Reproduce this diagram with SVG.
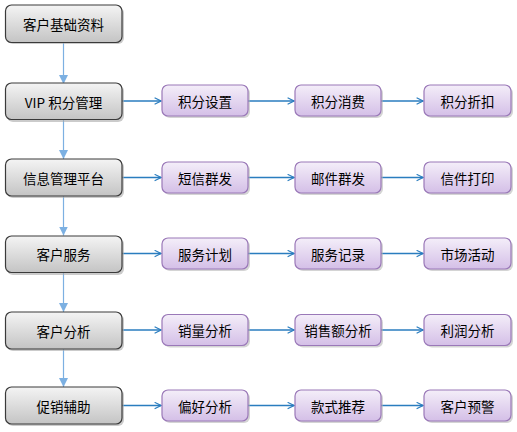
<svg xmlns="http://www.w3.org/2000/svg" width="517" height="432" viewBox="0 0 517 432">
<defs>
<linearGradient id="gGrey" x1="0" y1="0" x2="0" y2="1">
<stop offset="0" stop-color="#f4f4f4"/>
<stop offset="1" stop-color="#c4c4c4"/>
</linearGradient>
<linearGradient id="gPurple" x1="0" y1="0" x2="0" y2="1">
<stop offset="0" stop-color="#f4eef9"/>
<stop offset="1" stop-color="#d4bfe7"/>
</linearGradient>
<marker id="tri" viewBox="0 0 10 10" refX="10" refY="5" markerWidth="9" markerHeight="9" markerUnits="userSpaceOnUse" orient="auto">
<path d="M0,0 L10,5 L0,10 Z" fill="#7cb0e2"/>
</marker>
<marker id="chev" viewBox="0 0 10 10" refX="9" refY="5" markerWidth="8" markerHeight="8" markerUnits="userSpaceOnUse" orient="auto">
<path d="M1,1 L9,5 L1,9" fill="none" stroke="#2a7dbf" stroke-width="1.4"/>
</marker>
</defs>
<style>
.gs{fill:#a8a8a8;opacity:0.6}
.g{fill:url(#gGrey);stroke:#3a3a3a;stroke-width:1.2}
.ps{fill:#b0b0b0;opacity:0.55}
.p{fill:url(#gPurple);stroke:#9a78b8;stroke-width:1.2}
.t{font-family:"Noto Sans CJK SC","Liberation Sans",sans-serif;font-size:13.5px;fill:#000;text-anchor:middle;dominant-baseline:central}
.v{stroke:#7cb0e2;stroke-width:1.2;fill:none}
.h{stroke:#2a7dbf;stroke-width:1.3;fill:none}
</style>
<rect width="517" height="432" fill="#ffffff"/>
<g id="connectors">
<line class="v" x1="63.5" y1="43" x2="63.5" y2="84" marker-end="url(#tri)"/>
<line class="v" x1="63.5" y1="120" x2="63.5" y2="159" marker-end="url(#tri)"/>
<line class="v" x1="63.5" y1="196" x2="63.5" y2="235.5" marker-end="url(#tri)"/>
<line class="v" x1="63.5" y1="273" x2="63.5" y2="312" marker-end="url(#tri)"/>
<line class="v" x1="63.5" y1="349" x2="63.5" y2="387" marker-end="url(#tri)"/>
<line class="h" x1="122" y1="101" x2="161" y2="101" marker-end="url(#chev)"/>
<line class="h" x1="248" y1="101" x2="294" y2="101" marker-end="url(#chev)"/>
<line class="h" x1="381" y1="101" x2="423" y2="101" marker-end="url(#chev)"/>
<line class="h" x1="122" y1="177.5" x2="161" y2="177.5" marker-end="url(#chev)"/>
<line class="h" x1="248" y1="177.5" x2="294" y2="177.5" marker-end="url(#chev)"/>
<line class="h" x1="381" y1="177.5" x2="423" y2="177.5" marker-end="url(#chev)"/>
<line class="h" x1="122" y1="253.5" x2="161" y2="253.5" marker-end="url(#chev)"/>
<line class="h" x1="248" y1="253.5" x2="294" y2="253.5" marker-end="url(#chev)"/>
<line class="h" x1="381" y1="253.5" x2="423" y2="253.5" marker-end="url(#chev)"/>
<line class="h" x1="122" y1="330" x2="161" y2="330" marker-end="url(#chev)"/>
<line class="h" x1="248" y1="330" x2="294" y2="330" marker-end="url(#chev)"/>
<line class="h" x1="381" y1="330" x2="423" y2="330" marker-end="url(#chev)"/>
<line class="h" x1="122" y1="405.5" x2="161" y2="405.5" marker-end="url(#chev)"/>
<line class="h" x1="248" y1="405.5" x2="294" y2="405.5" marker-end="url(#chev)"/>
<line class="h" x1="381" y1="405.5" x2="423" y2="405.5" marker-end="url(#chev)"/>
</g>
<g id="n0"><rect class="gs" x="7" y="7" width="117" height="37" rx="6"/><rect class="g" x="5.5" y="5" width="116.5" height="37.5" rx="6"/><text class="t" x="63.5" y="23.5">客户基础资料</text></g>
<g id="n1"><rect class="gs" x="7" y="85" width="117" height="37" rx="6"/><rect class="g" x="5.5" y="83" width="116.5" height="36.5" rx="6"/><text class="t" x="63.5" y="101.5">VIP 积分管理</text></g>
<g id="n2"><rect class="gs" x="7" y="161" width="117" height="37" rx="6"/><rect class="g" x="5.5" y="159" width="116.5" height="37" rx="6"/><text class="t" x="63.5" y="177.5">信息管理平台</text></g>
<g id="n3"><rect class="gs" x="7" y="238" width="117" height="37" rx="6"/><rect class="g" x="5.5" y="236" width="116.5" height="36.5" rx="6"/><text class="t" x="63.5" y="254">客户服务</text></g>
<g id="n4"><rect class="gs" x="7" y="314" width="117" height="37" rx="6"/><rect class="g" x="5.5" y="312" width="116.5" height="37" rx="6"/><text class="t" x="63.5" y="330.5">客户分析</text></g>
<g id="n5"><rect class="gs" x="7" y="389" width="117" height="37" rx="6"/><rect class="g" x="5.5" y="387" width="116.5" height="37" rx="6"/><text class="t" x="63.5" y="405.5">促销辅助</text></g>

<g id="p11"><rect class="ps" x="164" y="87" width="86" height="31" rx="6"/><rect class="p" x="162" y="85" width="86" height="31" rx="6"/><text class="t" x="205" y="100.5">积分设置</text></g>
<g id="p12"><rect class="ps" x="297" y="87" width="86" height="31" rx="6"/><rect class="p" x="295" y="85" width="86" height="31" rx="6"/><text class="t" x="338" y="100.5">积分消费</text></g>
<g id="p13"><rect class="ps" x="426" y="87" width="87" height="31" rx="6"/><rect class="p" x="424" y="85" width="87" height="31" rx="6"/><text class="t" x="467.5" y="100.5">积分折扣</text></g>

<g id="p21"><rect class="ps" x="164" y="164" width="86" height="31" rx="6"/><rect class="p" x="162" y="162" width="86" height="31" rx="6"/><text class="t" x="205" y="177.5">短信群发</text></g>
<g id="p22"><rect class="ps" x="297" y="164" width="86" height="31" rx="6"/><rect class="p" x="295" y="162" width="86" height="31" rx="6"/><text class="t" x="338" y="177.5">邮件群发</text></g>
<g id="p23"><rect class="ps" x="426" y="164" width="87" height="31" rx="6"/><rect class="p" x="424" y="162" width="87" height="31" rx="6"/><text class="t" x="467.5" y="177.5">信件打印</text></g>

<g id="p31"><rect class="ps" x="164" y="240" width="86" height="31" rx="6"/><rect class="p" x="162" y="238" width="86" height="31" rx="6"/><text class="t" x="205" y="253.5">服务计划</text></g>
<g id="p32"><rect class="ps" x="297" y="240" width="86" height="31" rx="6"/><rect class="p" x="295" y="238" width="86" height="31" rx="6"/><text class="t" x="338" y="253.5">服务记录</text></g>
<g id="p33"><rect class="ps" x="426" y="240" width="87" height="31" rx="6"/><rect class="p" x="424" y="238" width="87" height="31" rx="6"/><text class="t" x="467.5" y="253.5">市场活动</text></g>

<g id="p41"><rect class="ps" x="164" y="316.5" width="86" height="31" rx="6"/><rect class="p" x="162" y="314.5" width="86" height="31" rx="6"/><text class="t" x="205" y="330">销量分析</text></g>
<g id="p42"><rect class="ps" x="297" y="316.5" width="86" height="31" rx="6"/><rect class="p" x="295" y="314.5" width="86" height="31" rx="6"/><text class="t" x="338" y="330">销售额分析</text></g>
<g id="p43"><rect class="ps" x="426" y="316.5" width="87" height="31" rx="6"/><rect class="p" x="424" y="314.5" width="87" height="31" rx="6"/><text class="t" x="467.5" y="330">利润分析</text></g>

<g id="p51"><rect class="ps" x="164" y="392" width="86" height="31" rx="6"/><rect class="p" x="162" y="390" width="86" height="31" rx="6"/><text class="t" x="205" y="405.5">偏好分析</text></g>
<g id="p52"><rect class="ps" x="297" y="392" width="86" height="31" rx="6"/><rect class="p" x="295" y="390" width="86" height="31" rx="6"/><text class="t" x="338" y="405.5">款式推荐</text></g>
<g id="p53"><rect class="ps" x="426" y="392" width="87" height="31" rx="6"/><rect class="p" x="424" y="390" width="87" height="31" rx="6"/><text class="t" x="467.5" y="405.5">客户预警</text></g>
</svg>
